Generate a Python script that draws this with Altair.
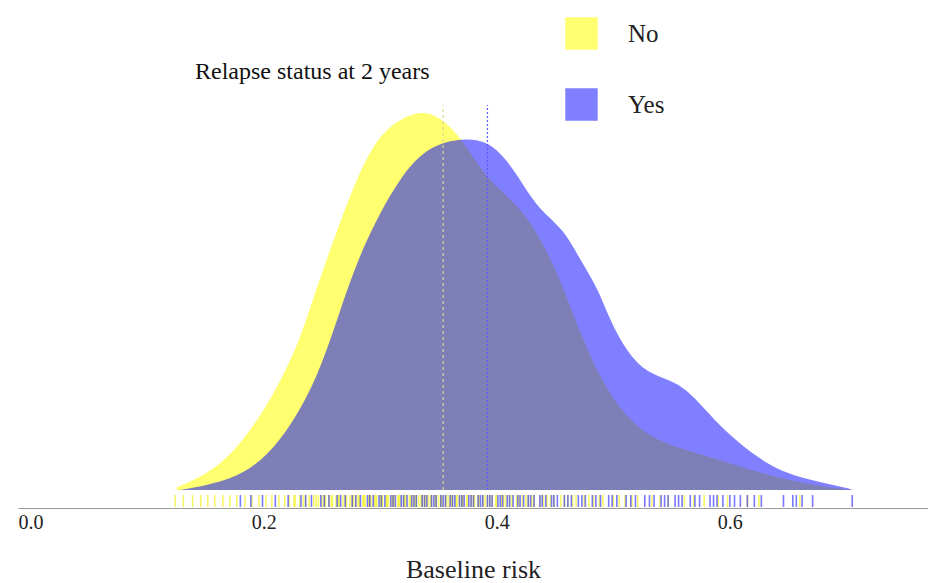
import altair as alt
import pandas as pd

# Density curves
no_x = [0.1256, 0.160, 0.188, 0.211, 0.231, 0.242, 0.257, 0.274, 0.291, 0.308, 0.334, 0.351,
        0.371, 0.388, 0.403, 0.420, 0.435, 0.452, 0.465, 0.471, 0.489, 0.512, 0.540, 0.583,
        0.626, 0.669, 0.703]
no_d = [0.03, 0.23, 0.65, 1.14, 1.70, 2.16, 2.73, 3.35, 3.86, 4.15, 4.32, 4.25,
        3.98, 3.60, 3.41, 3.20, 2.92, 2.47, 2.01, 1.82, 1.25, 0.80, 0.53, 0.38,
        0.19, 0.06, 0.00]
yes_x = [0.128, 0.174, 0.203, 0.225, 0.246, 0.263, 0.283, 0.317, 0.343, 0.371, 0.392, 0.409,
         0.423, 0.437, 0.457, 0.471, 0.486, 0.497, 0.512, 0.529, 0.549, 0.563, 0.577, 0.597,
         0.626, 0.654, 0.703, 0.705]
yes_d = [0.00, 0.11, 0.38, 0.76, 1.28, 1.93, 2.73, 3.58, 3.92, 4.00, 3.97, 3.75,
         3.46, 3.18, 2.97, 2.63, 2.31, 1.93, 1.56, 1.33, 1.25, 1.14, 0.94, 0.65,
         0.34, 0.15, 0.02, 0.00]

# Rug values
rug_no = [0.124, 0.131, 0.139, 0.146, 0.152, 0.158, 0.165, 0.171, 0.177, 0.184, 0.190, 0.196,
          0.202, 0.207, 0.213, 0.218, 0.222, 0.227, 0.231, 0.236, 0.239, 0.243, 0.247, 0.250,
          0.253, 0.256, 0.259, 0.262, 0.265, 0.268, 0.271, 0.274, 0.277, 0.279, 0.282, 0.285,
          0.287, 0.290, 0.292, 0.295, 0.297, 0.300, 0.302, 0.305, 0.307, 0.310, 0.312, 0.315,
          0.317, 0.320, 0.322, 0.325, 0.328, 0.330, 0.333, 0.336, 0.338, 0.341, 0.344, 0.347,
          0.350, 0.353, 0.356, 0.359, 0.362, 0.365, 0.368, 0.371, 0.374, 0.378, 0.381, 0.385,
          0.388, 0.392, 0.396, 0.400, 0.404, 0.408, 0.413, 0.417, 0.422, 0.427, 0.432, 0.437,
          0.443, 0.449, 0.455, 0.461, 0.468, 0.475, 0.483, 0.491, 0.500, 0.510, 0.521, 0.533,
          0.547, 0.561, 0.578, 0.598, 0.615, 0.625, 0.660,
          0.226, 0.234, 0.245, 0.252, 0.258, 0.264, 0.270, 0.276, 0.281, 0.286, 0.291, 0.296,
          0.301, 0.306, 0.311, 0.316, 0.321, 0.326, 0.331, 0.335, 0.339, 0.343, 0.348, 0.352,
          0.357, 0.361, 0.366, 0.370, 0.375, 0.380, 0.384, 0.390, 0.394, 0.399, 0.406, 0.411,
          0.419, 0.425, 0.430, 0.440, 0.446, 0.458, 0.465, 0.479, 0.488, 0.505, 0.516, 0.540,
          0.569, 0.590]
rug_yes = [0.180, 0.189, 0.199, 0.210, 0.221, 0.232, 0.241, 0.249, 0.256, 0.263, 0.270, 0.276,
           0.283, 0.289, 0.294, 0.299, 0.304, 0.309, 0.313, 0.318, 0.323, 0.327, 0.331, 0.336,
           0.340, 0.344, 0.348, 0.352, 0.356, 0.360, 0.364, 0.368, 0.372, 0.376, 0.380, 0.384,
           0.388, 0.392, 0.396, 0.401, 0.405, 0.409, 0.414, 0.418, 0.423, 0.427, 0.432, 0.437,
           0.442, 0.447, 0.452, 0.458, 0.464, 0.470, 0.476, 0.482, 0.489, 0.496, 0.503, 0.511,
           0.519, 0.527, 0.535, 0.541, 0.547, 0.553, 0.559, 0.566, 0.574, 0.583, 0.589, 0.594,
           0.600, 0.609, 0.615, 0.621, 0.627, 0.646, 0.654, 0.657, 0.662, 0.671, 0.705,
           0.236, 0.252, 0.266, 0.279, 0.291, 0.301, 0.311, 0.320, 0.329, 0.338, 0.346, 0.354,
           0.362, 0.370, 0.378, 0.386, 0.394, 0.403, 0.411, 0.420, 0.429, 0.439, 0.449, 0.461,
           0.473, 0.485, 0.499, 0.515, 0.531, 0.544, 0.556, 0.570, 0.586, 0.604]

means = {"No": 0.354, "Yes": 0.392}
statuses = ["No", "Yes"]
legend_title = "Relapse status at 2 years"
x_ticks = [0.0, 0.2, 0.4, 0.6]

dens = pd.concat([
    pd.DataFrame({"risk": no_x, "density": no_d, "status": "No"}),
    pd.DataFrame({"risk": yes_x, "density": yes_d, "status": "Yes"}),
])
rug = pd.concat([
    pd.DataFrame({"risk": rug_no, "status": "No"}),
    pd.DataFrame({"risk": rug_yes, "status": "Yes"}),
])
rug["y0"] = -0.057
rug["y1"] = -0.193
mean_df = pd.DataFrame({"status": list(means.keys()), "mean": list(means.values()),
                        "y0": 0.0, "y1": 4.375})

FONT = "Liberation Serif"
xscale = alt.Scale(domain=[-0.0108, 0.770], nice=False, zero=False)
yscale = alt.Scale(domain=[-0.2045, 5.432], nice=False, zero=False)

xaxis = alt.Axis(values=x_ticks, format=".1f", title="Baseline risk", grid=False, ticks=False,
                 domainColor="#9a9a9a", labelFont=FONT, labelFontSize=20, labelColor="#222",
                 labelPadding=4, titleFont=FONT, titleFontSize=26, titleFontWeight="normal",
                 titleColor="#222", titlePadding=24)

area = alt.Chart(dens).mark_area(interpolate="basis").encode(
    x=alt.X("risk:Q", scale=xscale, axis=xaxis),
    y=alt.Y("density:Q", scale=yscale, axis=None, stack=None),
    color=alt.Color("status:N",
                    scale=alt.Scale(domain=statuses, range=["#FFFF70", "rgba(0,0,255,0.5)"]),
                    legend=alt.Legend(title=None, orient="none", legendX=547, legendY=5,
                                      symbolType="square", symbolSize=1050,
                                      symbolStrokeWidth=0, labelFont=FONT, labelFontSize=25,
                                      labelColor="#222", labelOffset=30, rowPadding=38,
                                      padding=0, symbolOpacity=1)),
    order=alt.Order("status:N"),
)

rugs = alt.Chart(rug).mark_rule(strokeWidth=1.6, opacity=0.6).encode(
    x=alt.X("risk:Q", scale=xscale, axis=xaxis),
    y=alt.Y("y0:Q", scale=yscale, axis=None),
    y2="y1:Q",
    stroke=alt.Stroke("status:N", scale=alt.Scale(domain=statuses, range=["#F0F000", "#2020FF"]),
                      legend=None),
)

mean_no = alt.Chart(mean_df).transform_filter(alt.datum.status == "No").mark_rule(
    color="#D6D690", strokeWidth=1.2, strokeDash=[3, 3]).encode(
    x=alt.X("mean:Q", scale=xscale, axis=xaxis),
    y=alt.Y("y0:Q", scale=yscale, axis=None), y2="y1:Q")
mean_yes = alt.Chart(mean_df).transform_filter(alt.datum.status == "Yes").mark_rule(
    color="#5a5aff", strokeWidth=1.2, strokeDash=[2, 2]).encode(
    x=alt.X("mean:Q", scale=xscale, axis=xaxis),
    y=alt.Y("y0:Q", scale=yscale, axis=None), y2="y1:Q")

title_txt = alt.Chart(pd.DataFrame({"t": [legend_title]})).mark_text(
    align="left", baseline="middle", font=FONT, fontSize=24, color="#111").encode(
    x=alt.value(177), y=alt.value(60), text="t:N")

chart = alt.layer(area, rugs, mean_no, mean_yes, title_txt).resolve_scale(
    color="independent", stroke="independent"
).properties(
    width=910, height=496,
    padding={"left": 10, "top": 4, "right": 0, "bottom": 0},
).configure_view(stroke=None)

chart.save("out.html", embed_options={"renderer": "svg", "actions": False})
